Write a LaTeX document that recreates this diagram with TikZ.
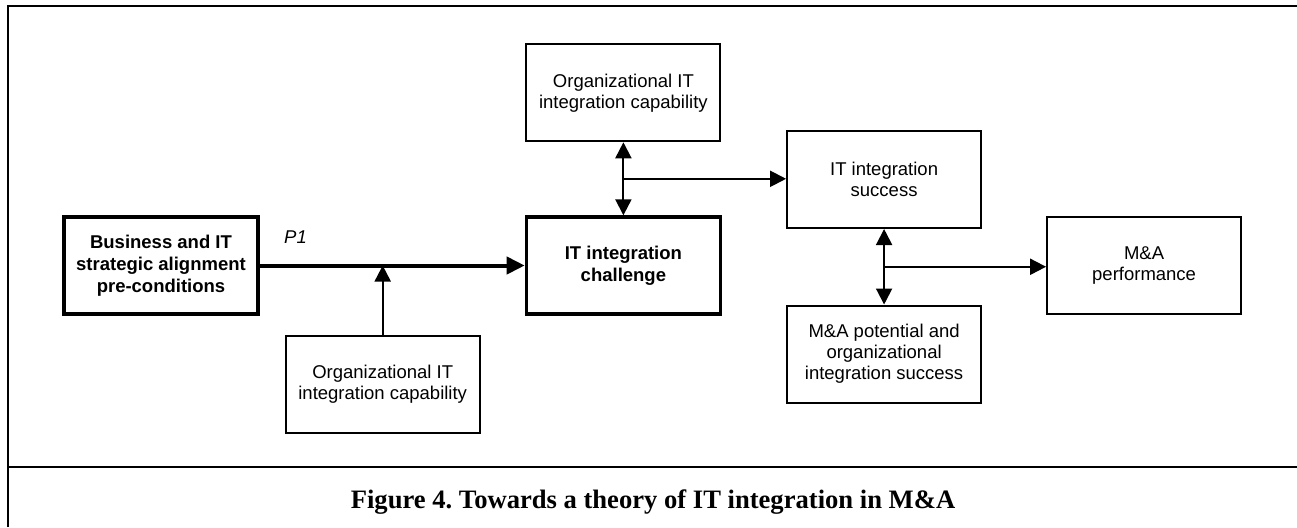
\documentclass[tikz,border=0pt]{standalone}
\usepackage{fontspec}
\setsansfont{Liberation Sans}
\newfontfamily\capfont{Liberation Serif}
\usetikzlibrary{positioning,arrows.meta,calc}
\frenchspacing
\def\dx{32pt}
\def\dy{36.5pt}
\tikzstyle{box}=[draw,line width=1pt,minimum width=97pt,minimum height=48.5pt,
  align=center,inner sep=2pt,font=\sffamily\fontsize{9.25}{10.5}\selectfont]
\tikzstyle{keybox}=[box,line width=1.7pt,font=\sffamily\bfseries\fontsize{9.25}{11}\selectfont]
\newcommand{\newBox}[4]{\node[#3](#1)[#4]{#2};}

\begin{document}
\begin{tikzpicture}[x=1pt,y=1pt,node distance=\dy and \dx,
    >={Triangle[length=8pt,width=8pt]},
    line width=1pt  % frame and thin links
    ]
    \useasboundingbox (0,0) rectangle (648.5,-263.5);
    \node[keybox] (bus) at (80.5,-132.75) {Business and IT\\strategic alignment\\pre-conditions};
    \newBox{chal}{IT integration\\challenge}{keybox}{right=132.5pt of bus}
    \newBox{orgtop}{Organizational IT\\integration capability}{box}{above=of chal}
    \newBox{orglow}{Organizational IT\\integration capability}{box}{below right=9.5pt and 12.5pt of bus}
    \newBox{succ}{IT integration\\success}{box}{right=of chal,yshift=43pt}
    \newBox{pot}{M\&A potential and\\organizational\\integration success}{box}{below=37.75pt of succ}
    \newBox{perf}{M\&A\\performance}{box}{right=of succ,yshift=-43pt}
    % links
    \draw[->,line width=2pt,>={Triangle[length=9pt,width=8.5pt]}] (bus) --
      node[pos=0.135,above=10pt,inner sep=0pt,font=\sffamily\itshape\fontsize{9.25}{10}\selectfont] (p1) {P1} (chal);
    \draw[->] (orglow) -- (orglow |- bus);
    \draw[<->] (orgtop) -- (chal);
    \coordinate (j1) at ($(orgtop.south)!.5!(chal.north)$);
    \draw[->] (j1) -- (j1 -| succ.west);
    \draw[<->] (succ) -- (pot);
    \coordinate (j2) at ($(succ.south)!.5!(pot.north)$);
    \draw[->] (j2) -- (j2 -| perf.west);
    % frame and caption
    \draw (3.75,-263.5) -- (3.75,-3) -- (648.5,-3);
    \draw (3.75,-233.5) -- (648.5,-233.5);
    \node[anchor=base,font=\capfont\bfseries\fontsize{13.3}{15}\selectfont] (cap) at (326.5,-254)
      {Figure 4. Towards a theory of IT integration in M\&A};
  \end{tikzpicture}
\end{document}
